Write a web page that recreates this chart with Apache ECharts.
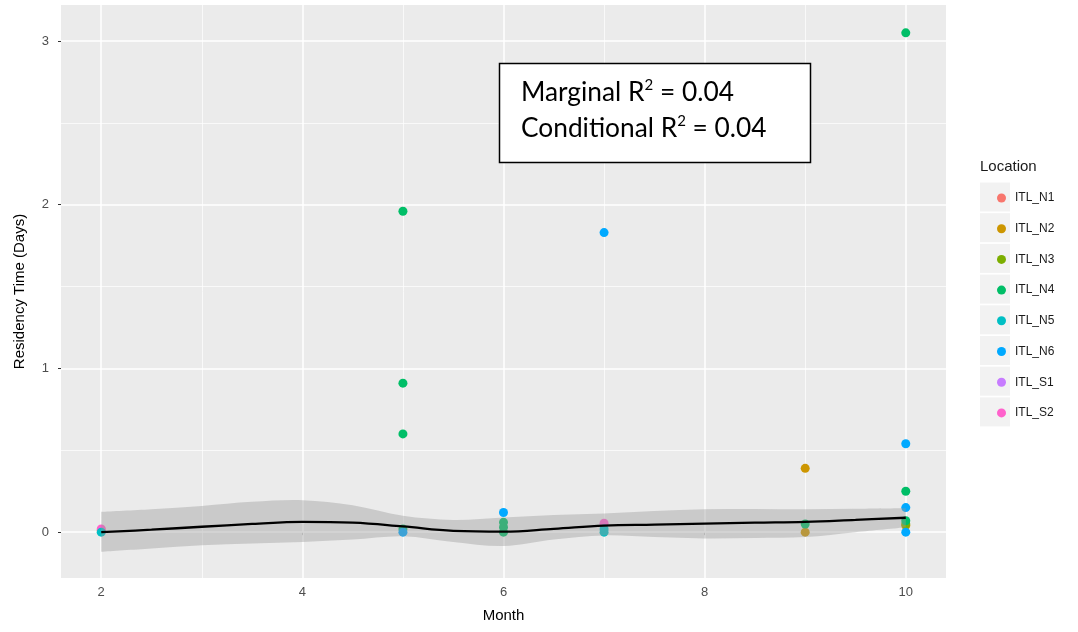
<!DOCTYPE html>
<html>
<head>
<meta charset="utf-8">
<script src="https://cdn.jsdelivr.net/npm/echarts@6/dist/echarts.min.js"></script>
<style>html,body{margin:0;padding:0;background:#fff}#c{width:1078px;height:632px}</style>
</head>
<body>
<div id="c"></div>
<script>
// ---- data ----
const locations = ['ITL_N1','ITL_N2','ITL_N3','ITL_N4','ITL_N5','ITL_N6','ITL_S1','ITL_S2'];
const colors = ['#F8766D','#CD9600','#7CAE00','#00BE67','#00BFC4','#00A9FF','#C77CFF','#FF61CC'];
const ptsN1 = [[2,0.01]];
const ptsN2 = [[9,0.39],[9,0.0],[10,0.04]];
const ptsN3 = [[10,0.05]];
const ptsN4 = [[5,1.96],[5,0.91],[5,0.60],[5,0.02],[6,0.06],[6,0.03],[6,0.0],[9,0.05],[10,3.05],[10,0.25],[10,0.07]];
const ptsN5 = [[2,0.0],[7,0.02],[7,0.0]];
const ptsN6 = [[5,0.0],[6,0.12],[7,1.83],[10,0.54],[10,0.15],[10,0.0]];
const ptsS1 = [];
const ptsS2 = [[2,0.02],[7,0.055]];
const seriesPoints = [ptsN1,ptsN2,ptsN3,ptsN4,ptsN5,ptsN6,ptsS1,ptsS2];
const drawOrder = [0,1,2,3,7,5,6,4];

const smoothX     = [2,2.5,3,3.5,4,4.5,5,5.5,6,6.5,7,7.5,8,8.5,9,9.5,10];
const smoothFit   = [0.000,0.015,0.033,0.050,0.063,0.058,0.035,0.008,0.003,0.020,0.040,0.046,0.052,0.058,0.063,0.075,0.088];
const smoothUpper = [0.124,0.140,0.160,0.185,0.195,0.165,0.100,0.075,0.090,0.105,0.114,0.130,0.140,0.142,0.140,0.143,0.146];
const smoothLower = [-0.120,-0.100,-0.080,-0.070,-0.060,-0.045,-0.025,-0.060,-0.085,-0.045,-0.020,-0.030,-0.038,-0.035,-0.030,0.000,0.030];

const xTicks = [2,4,6,8,10];
const xMinor = [3,5,7,9];
const yTicks = [0,1,2,3];
const yMinor = [0.5,1.5,2.5];

// ---- chart ----
const FONT = 'Liberation Sans';
const chart = echarts.init(document.getElementById('c'), null, {renderer:'canvas'});

// Catmull-Rom curve through pixel points -> SVG path segments
function curvePath(pts, start){
  let d = start ? ('M' + pts[0][0] + ' ' + pts[0][1]) : ('L' + pts[0][0] + ' ' + pts[0][1]);
  for (let i = 0; i < pts.length - 1; i++){
    const p0 = pts[Math.max(i-1,0)], p1 = pts[i], p2 = pts[i+1], p3 = pts[Math.min(i+2,pts.length-1)];
    const c1 = [p1[0] + (p2[0]-p0[0])/6, p1[1] + (p2[1]-p0[1])/6];
    const c2 = [p2[0] - (p3[0]-p1[0])/6, p2[1] - (p3[1]-p1[1])/6];
    d += ' C' + c1[0] + ' ' + c1[1] + ' ' + c2[0] + ' ' + c2[1] + ' ' + p2[0] + ' ' + p2[1];
  }
  return d;
}

const series = [];
// grid lines drawn through the axes' scales
series.push({
  type:'scatter', data:[[2,0]], symbolSize:0, silent:true, z:1,
  markLine:{
    z:1, silent:true, symbol:'none', animation:false, label:{show:false},
    data:[
      ...xMinor.map(v=>({xAxis:v, lineStyle:{color:'#fff',width:0.7,type:'solid'}})),
      ...yMinor.map(v=>({yAxis:v, lineStyle:{color:'#fff',width:0.7,type:'solid'}})),
      ...xTicks.map(v=>({xAxis:v, lineStyle:{color:'#fff',width:1.5,type:'solid'}})),
      ...yTicks.map(v=>({yAxis:v, lineStyle:{color:'#fff',width:1.5,type:'solid'}}))
    ]
  }
});
drawOrder.forEach(i=>{
  series.push({
    name:locations[i], type:'scatter', data:seriesPoints[i], symbolSize:9, z:2,
    itemStyle:{color:colors[i], opacity:1}
  });
});
// confidence band through the axis scales
series.push({
  type:'custom', z:3, silent:true,
  data: smoothX.map((x,i)=>[x, smoothLower[i], smoothUpper[i]]),
  encode:{x:0, y:[1,2]},
  renderItem:function(params, api){
    if (params.dataIndex !== 0) return null;
    const up = smoothX.map((x,i)=>api.coord([x, smoothUpper[i]]));
    const lo = smoothX.map((x,i)=>api.coord([x, smoothLower[i]])).reverse();
    const d = curvePath(up, true) + ' ' + curvePath(lo, false) + ' Z';
    return {type:'path', shape:{pathData:d}, style:{fill:'rgba(153,153,153,0.4)', stroke:null}};
  }
});
series.push({
  type:'line', smooth:0.4, symbol:'none', z:4, silent:true,
  data: smoothX.map((x,i)=>[x, smoothFit[i]]),
  lineStyle:{color:'#000', width:2.3}
});

const legendTop = 186, itemStep = 30.7, firstDot = 197;
const keyRects = locations.map((n,i)=>({
  type:'rect', left:980, top: firstDot - 14.5 + i*itemStep, silent:true,
  shape:{width:30, height:29}, style:{fill:'#F2F2F2'}
}));

chart.setOption({
  animation:false,
  backgroundColor:'#fff',
  grid:{left:61, right:132, top:5, bottom:54, show:true, backgroundColor:'#EBEBEB', borderWidth:0},
  xAxis:{
    type:'value', min:1.6, max:10.4,
    name:'Month', nameLocation:'middle', nameGap:30,
    nameTextStyle:{fontFamily:FONT, fontSize:15, color:'#000'},
    axisLine:{show:false},
    axisTick:{show:true, customValues:xTicks, length:3, lineStyle:{color:'#333', width:1}},
    axisLabel:{customValues:xTicks, fontFamily:FONT, fontSize:13, color:'#4D4D4D', margin:8},
    splitLine:{show:false}
  },
  yAxis:{
    type:'value', min:-0.28, max:3.22,
    name:'Residency Time (Days)', nameLocation:'middle', nameGap:34,
    nameTextStyle:{fontFamily:FONT, fontSize:15, color:'#000'},
    axisLine:{show:false},
    axisTick:{show:true, customValues:yTicks, length:3, lineStyle:{color:'#333', width:1}},
    axisLabel:{customValues:yTicks, fontFamily:FONT, fontSize:13, color:'#4D4D4D', margin:12},
    splitLine:{show:false}
  },
  legend:{
    data:locations, orient:'vertical', left:992, top:legendTop,
    icon:'circle', itemWidth:9, itemHeight:9, itemGap:itemStep-14,
    textStyle:{fontFamily:FONT, fontSize:12, color:'#1a1a1a', lineHeight:14, padding:[0,0,0,4]},
    selectedMode:false
  },
  graphic:[
    ...keyRects,
    {type:'text', left:980, top:159, style:{text:'Location', font:'15px "Liberation Sans"', fill:'#1a1a1a'}},
    {type:'rect', shape:{x:499.5, y:63.5, width:311, height:99}, style:{fill:'#fff', stroke:'#000', lineWidth:1.5}, z:10},
    {type:'text', x:521, y:78, z:11, style:{
      text:'{a|Marginal R}{s|2}{a| = 0.04}',
      rich:{a:{fontFamily:'Lato', fontSize:26.3, color:'#000', lineHeight:30, verticalAlign:'middle'},
            s:{fontFamily:'Lato', fontSize:15, color:'#000', lineHeight:30, verticalAlign:'top'}}
    }},
    {type:'text', x:521, y:114, z:11, style:{
      text:'{a|Conditional R}{s|2}{a| = 0.04}',
      rich:{a:{fontFamily:'Lato', fontSize:26.3, color:'#000', lineHeight:30, verticalAlign:'middle'},
            s:{fontFamily:'Lato', fontSize:15, color:'#000', lineHeight:30, verticalAlign:'top'}}
    }}
  ],
  series
});
</script>
</body>
</html>
